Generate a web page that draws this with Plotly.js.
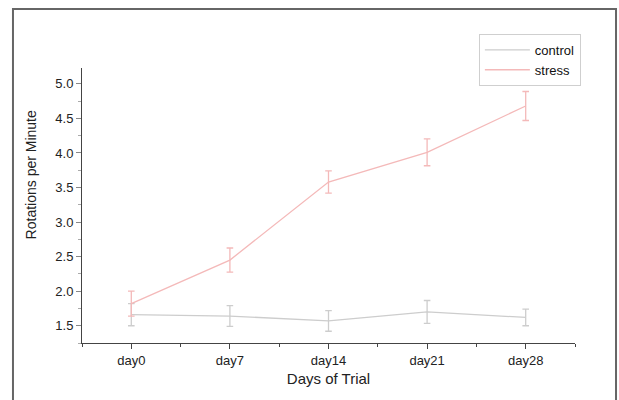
<!DOCTYPE html>
<html>
<head>
<meta charset="utf-8">
<script src="https://cdn.plot.ly/plotly-3.0.1.min.js"></script>
<style>html,body{margin:0;padding:0;background:#fff;}#chart{width:619px;height:400px;}</style>
</head>
<body>
<div id="chart"></div>
<script>
const days = ["day0", "day7", "day14", "day21", "day28"];
const controlMean = [1.66, 1.64, 1.57, 1.70, 1.62];
const controlErr = [0.16, 0.15, 0.15, 0.165, 0.12];
const stressMean = [1.82, 2.45, 3.58, 4.01, 4.68];
const stressErr = [0.18, 0.175, 0.16, 0.195, 0.21];
const yTickVals = [1.5, 2.0, 2.5, 3.0, 3.5, 4.0, 4.5, 5.0];

const font = "Liberation Sans, Arial, sans-serif";
const controlColor = "#cdcdcd";
const stressColor = "#f4b9b9";

const traces = [
  {
    x: days, y: controlMean, name: "control", type: "scatter", mode: "lines",
    line: {color: controlColor, width: 1.3},
    error_y: {type: "data", array: controlErr, visible: true, color: controlColor, thickness: 1.3, width: 3.3}
  },
  {
    x: days, y: stressMean, name: "stress", type: "scatter", mode: "lines",
    line: {color: stressColor, width: 1.3},
    error_y: {type: "data", array: stressErr, visible: true, color: stressColor, thickness: 1.3, width: 3.3}
  },
  // invisible helper trace on the overlaid linear axis for boundary ticks
  {x: [-0.5, 4.5], y: [null, null], xaxis: "x2", showlegend: false, hoverinfo: "skip", mode: "lines"}
];

const layout = {
  width: 619, height: 400,
  margin: {l: 82, r: 44, t: 68, b: 57},
  paper_bgcolor: "#fff", plot_bgcolor: "#fff",
  font: {family: font, color: "#222", size: 13},
  showlegend: true,
  legend: {
    x: 0.805, y: 1.124, xanchor: "left", yanchor: "top",
    bordercolor: "#cfcfcf", borderwidth: 1, bgcolor: "#fff",
    font: {family: font, size: 13, color: "#111"},
    itemwidth: 45, tracegroupgap: 0
  },
  xaxis: {
    type: "category", range: [-0.5, 4.5],
    showgrid: false, zeroline: false,
    showline: true, linecolor: "#444", linewidth: 1,
    ticks: "outside", ticklen: 5, tickcolor: "#444",
    tickfont: {family: font, size: 13, color: "#222"},
    title: {text: "Days of Trial", font: {family: font, size: 15, color: "#222"}, standoff: 6},
    automargin: false
  },
  xaxis2: {
    overlaying: "x", type: "linear", range: [-0.5, 4.5],
    tickvals: [-0.5, 0.5, 1.5, 2.5, 3.5, 4.5],
    showticklabels: false, showgrid: false, zeroline: false, showline: false,
    ticks: "outside", ticklen: 3, tickcolor: "#444", side: "bottom", anchor: "y"
  },
  yaxis: {
    range: [1.25, 5.23],
    tickvals: yTickVals, tickformat: ".1f",
    showgrid: false, zeroline: false,
    showline: true, linecolor: "#444", linewidth: 1,
    ticks: "outside", ticklen: 5, tickcolor: "#888",
    minor: {dtick: 0.25, tick0: 1.25, ticks: "outside", ticklen: 3, tickcolor: "#aaa"},
    tickfont: {family: font, size: 13, color: "#222"},
    automargin: false
  },
  annotations: [
    {
      text: "Rotations per Minute", textangle: -90,
      xref: "paper", yref: "paper", x: -0.1035, y: 0.613,
      xanchor: "center", yanchor: "middle", showarrow: false,
      font: {family: font, size: 14, color: "#222"}
    }
  ],
  shapes: [
    {
      type: "rect", xref: "paper", yref: "paper",
      x0: -0.140, x1: 1.0832, y0: -0.35, y1: 1.2145,
      line: {color: "#666", width: 2}, fillcolor: "rgba(0,0,0,0)", layer: "below"
    }
  ]
};

Plotly.newPlot("chart", traces, layout, {staticPlot: true, displayModeBar: false});
</script>
</body>
</html>
